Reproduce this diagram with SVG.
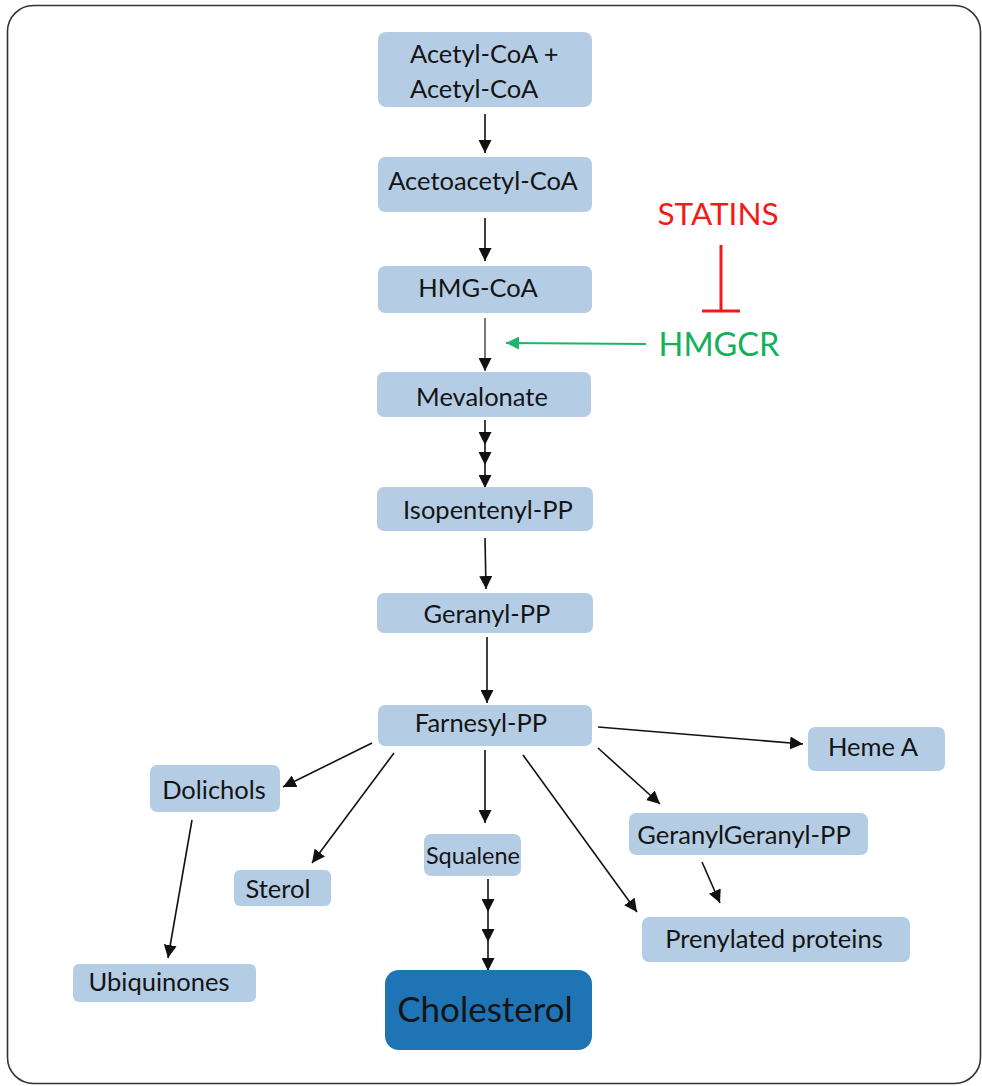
<svg xmlns="http://www.w3.org/2000/svg" width="982" height="1086" viewBox="0 0 982 1086">
<style>
.box{fill:#b4cde5;}
.chol{fill:#1f74b6;}
.t{font-family:Lato,"Liberation Sans",sans-serif;font-size:25.5px;fill:#141414;text-anchor:middle;dominant-baseline:central;}
.big{font-size:35px;}
.c{stroke:#111;stroke-width:1.6;fill:none;marker-end:url(#ah);}
</style>
<defs>
<marker id="ah" viewBox="0 0 10 10" refX="10" refY="5" markerWidth="13" markerHeight="13" markerUnits="userSpaceOnUse" orient="auto">
<path d="M0,0 L10,5 L0,10 z" fill="#111"/>
</marker>
<marker id="ahg" viewBox="0 0 10 10" refX="10" refY="5" markerWidth="13" markerHeight="13" markerUnits="userSpaceOnUse" orient="auto">
<path d="M0,0 L10,5 L0,10 z" fill="#1db56b"/>
</marker>
</defs>
<rect x="7.5" y="5.5" width="973" height="1078" rx="26" fill="#fff" stroke="#333" stroke-width="1.6"/>

<g id="connectors">
<line class="c" x1="485" y1="114" x2="485" y2="153"/>
<line class="c" x1="485" y1="218" x2="485" y2="261"/>
<line class="c" x1="485" y1="318" x2="485" y2="371" style="stroke:#555"/>
<line class="c" x1="485" y1="420" x2="485" y2="445"/>
<line class="c" x1="485" y1="445" x2="485" y2="465"/>
<line class="c" x1="485" y1="465" x2="485" y2="488"/>
<line class="c" x1="485" y1="538" x2="486" y2="589"/>
<line class="c" x1="487" y1="637" x2="487" y2="703"/>
<line class="c" x1="598" y1="727" x2="803" y2="744"/>
<line class="c" x1="598" y1="748" x2="660" y2="804"/>
<line class="c" x1="523" y1="755" x2="637" y2="912"/>
<line class="c" x1="702" y1="862" x2="720" y2="903"/>
<line class="c" x1="485" y1="750" x2="485" y2="823"/>
<line class="c" x1="488" y1="879" x2="488" y2="912"/>
<line class="c" x1="488" y1="912" x2="488" y2="942"/>
<line class="c" x1="488" y1="942" x2="488" y2="971"/>
<line class="c" x1="372" y1="743" x2="283" y2="787"/>
<line class="c" x1="394" y1="753" x2="312" y2="863"/>
<line class="c" x1="192" y1="820" x2="168" y2="958"/>
<line x1="646" y1="344" x2="506" y2="343" stroke="#1db56b" stroke-width="1.8" marker-end="url(#ahg)"/>
<line x1="721" y1="245" x2="721" y2="311" stroke="#f01a1a" stroke-width="3"/>
<line x1="702" y1="311" x2="740" y2="311" stroke="#f01a1a" stroke-width="3"/>
</g>

<g id="n-acetyl"><rect class="box" x="378" y="32" width="214" height="75" rx="8"/><text class="t" x="410" y="53" style="text-anchor:start">Acetyl-CoA +</text><text class="t" x="410" y="88" style="text-anchor:start">Acetyl-CoA</text></g>
<g id="n-acetoacetyl"><rect class="box" x="378" y="157" width="214" height="55" rx="7"/><text class="t" x="483" y="180">Acetoacetyl-CoA</text></g>
<g id="n-hmgcoa"><rect class="box" x="378" y="266" width="214" height="47" rx="7"/><text class="t" x="478" y="287">HMG-CoA</text></g>
<g id="n-mevalonate"><rect class="box" x="377" y="372" width="214" height="45" rx="7"/><text class="t" x="482" y="396">Mevalonate</text></g>
<g id="n-isopentenyl"><rect class="box" x="377" y="487" width="216" height="44" rx="7"/><text class="t" x="488" y="509">Isopentenyl-PP</text></g>
<g id="n-geranyl"><rect class="box" x="377" y="593" width="216" height="40" rx="7"/><text class="t" x="487" y="613">Geranyl-PP</text></g>
<g id="n-farnesyl"><rect class="box" x="378" y="705" width="214" height="41" rx="7"/><text class="t" x="481" y="722">Farnesyl-PP</text></g>
<g id="n-hemea"><rect class="box" x="808" y="727" width="137" height="44" rx="7"/><text class="t" x="873" y="746">Heme A</text></g>
<g id="n-ggpp"><rect class="box" x="629" y="813" width="239" height="42" rx="7"/><text class="t" x="744" y="834">GeranylGeranyl-PP</text></g>
<g id="n-prenylated"><rect class="box" x="642" y="917" width="268" height="45" rx="7"/><text class="t" x="774" y="938">Prenylated proteins</text></g>
<g id="n-squalene"><rect class="box" x="424" y="834" width="97" height="42" rx="7"/><text class="t" x="473" y="855" style="font-size:23.5px">Squalene</text></g>
<g id="n-cholesterol"><rect class="chol" x="385" y="970" width="207" height="80" rx="14"/><text class="t big" x="485" y="1008">Cholesterol</text></g>
<g id="n-dolichols"><rect class="box" x="150" y="765" width="130" height="47" rx="7"/><text class="t" x="214" y="789">Dolichols</text></g>
<g id="n-sterol"><rect class="box" x="234" y="870" width="97" height="36" rx="6"/><text class="t" x="278" y="888">Sterol</text></g>
<g id="n-ubiquinones"><rect class="box" x="73" y="964" width="183" height="38" rx="6"/><text class="t" x="159" y="981">Ubiquinones</text></g>
<g id="n-statins"><text class="t" x="718" y="213" style="fill:#f31a1a;font-size:31.5px">STATINS</text></g>
<g id="n-hmgcr"><text class="t" x="719" y="343" style="fill:#14b05a;font-size:32.5px">HMGCR</text></g>
</svg>
